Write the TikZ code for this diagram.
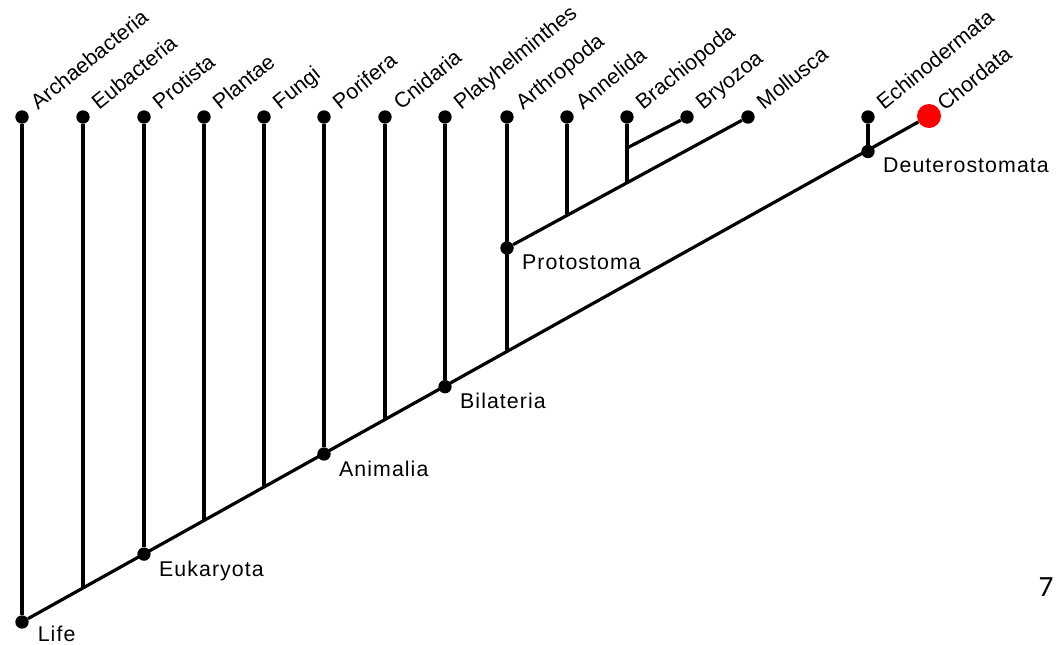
\documentclass[tikz,border=0pt]{standalone}
\usepackage{fontspec}
\setmainfont{Liberation Sans}
\newfontfamily\numfont{Carlito}
\usetikzlibrary{positioning}

\begin{document}
\begin{tikzpicture}[x=0.75pt,y=0.75pt,yscale=-1,
  dot/.style={circle,fill=black,inner sep=0pt,minimum size=10pt},
  reddot/.style={circle,fill=red,inner sep=0pt,minimum size=18pt},
  branch/.style={line width=2.4pt},
  taxon/.style={xshift=12pt,yshift=5pt,rotate=39,anchor=base west,inner sep=0pt,
    font=\fontsize{16}{19}\selectfont},
  clade/.style={inner sep=0pt,font=\fontsize{16}{19}\selectfont\addfontfeatures{LetterSpace=5}}]
\useasboundingbox (0,0) rectangle (1056,644);

% tips
\node [dot] (archae) at (22,117) {};
\node [dot] (eubac) at (83,117) {};
\node [dot] (protista) at (144,117) {};
\node [dot] (plantae) at (204,117) {};
\node [dot] (fungi) at (264,117) {};
\node [dot] (porifera) at (324,117) {};
\node [dot] (cnidaria) at (385,117) {};
\node [dot] (platy) at (445,117) {};
\node [dot] (arthro) at (507,117) {};
\node [dot] (annelida) at (567,117) {};
\node [dot] (brachio) at (627,117) {};
\node [dot] (bryozoa) at (687,117) {};
\node [dot] (mollusca) at (748,117) {};
\node [dot] (echino) at (868,117) {};
\node [reddot] (chordata) at (929,116) {};

% clades
\node [dot] (life) at (22,622) {};
\node [dot] (eukaryota) at (144,554.1) {};
\node [dot] (animalia) at (324,454) {};
\node [dot] (bilateria) at (445,386.7) {};
\node [dot] (protostoma) at (507,248) {};
\node [dot] (deutero) at (868,151.5) {};

% junctions
\coordinate (j-eubac) at (83,588.1);
\coordinate (j-plantae) at (204,520.8);
\coordinate (j-fungi) at (264,487.4);
\coordinate (j-cnidaria) at (385,420.1);
\coordinate (j-arthro) at (507,352.3);
\coordinate (j-annelida) at (567,215.4);
\coordinate (j-brachio) at (627,182.8);
\coordinate (j-bryozoa) at (627,148);

\draw [branch] (life) -- (chordata);
\draw [branch] (protostoma) -- (mollusca);
\draw [branch] (j-bryozoa) -- (bryozoa);

\draw [branch] (archae) -- (life);
\draw [branch] (eubac) -- (j-eubac);
\draw [branch] (protista) -- (eukaryota);
\draw [branch] (plantae) -- (j-plantae);
\draw [branch] (fungi) -- (j-fungi);
\draw [branch] (porifera) -- (animalia);
\draw [branch] (cnidaria) -- (j-cnidaria);
\draw [branch] (platy) -- (bilateria);
\draw [branch] (arthro) -- (j-arthro);
\draw [branch] (annelida) -- (j-annelida);
\draw [branch] (brachio) -- (j-brachio);
\draw [branch] (echino) -- (deutero);

\node [taxon] (t-archae) at (archae) {Archaebacteria};
\node [taxon] (t-eubac) at (eubac) {Eubacteria};
\node [taxon] (t-protista) at (protista) {Protista};
\node [taxon] (t-plantae) at (plantae) {Plantae};
\node [taxon] (t-fungi) at (fungi) {Fungi};
\node [taxon] (t-porifera) at (porifera) {Porifera};
\node [taxon] (t-cnidaria) at (cnidaria) {Cnidaria};
\node [taxon] (t-platy) at (platy) {Platyhelminthes};
\node [taxon] (t-arthro) at (arthro) {Arthropoda};
\node [taxon] (t-annelida) at (annelida) {Annelida};
\node [taxon] (t-brachio) at (brachio) {Brachiopoda};
\node [taxon] (t-bryozoa) at (bryozoa) {Bryozoa};
\node [taxon] (t-mollusca) at (mollusca) {Mollusca};
\node [taxon] (t-echino) at (echino) {Echinodermata};
\node [taxon,xshift=-1.5pt,yshift=-1.5pt] (t-chordata) at (chordata) {Chordata};

\node [clade,below right=-1pt and 8pt of life] (l-life) {Life};
\node [clade,below right=1.1pt and 7.5pt of eukaryota] (l-eukaryota) {Eukaryota};
\node [clade,below right=1.1pt and 7.5pt of animalia] (l-animalia) {Animalia};
\node [clade,below right=1.1pt and 7.5pt of bilateria] (l-bilateria) {Bilateria};
\node [clade,below right=1.1pt and 7.5pt of protostoma] (l-protostoma) {Protostoma};
\node [clade,below right=1.1pt and 7.5pt of deutero] (l-deutero) {Deuterostomata};

\node [anchor=base,inner sep=0pt,font=\numfont\fontsize{22}{26}\selectfont] (pagenum) at (1046,596) {7};
\end{tikzpicture}
\end{document}
